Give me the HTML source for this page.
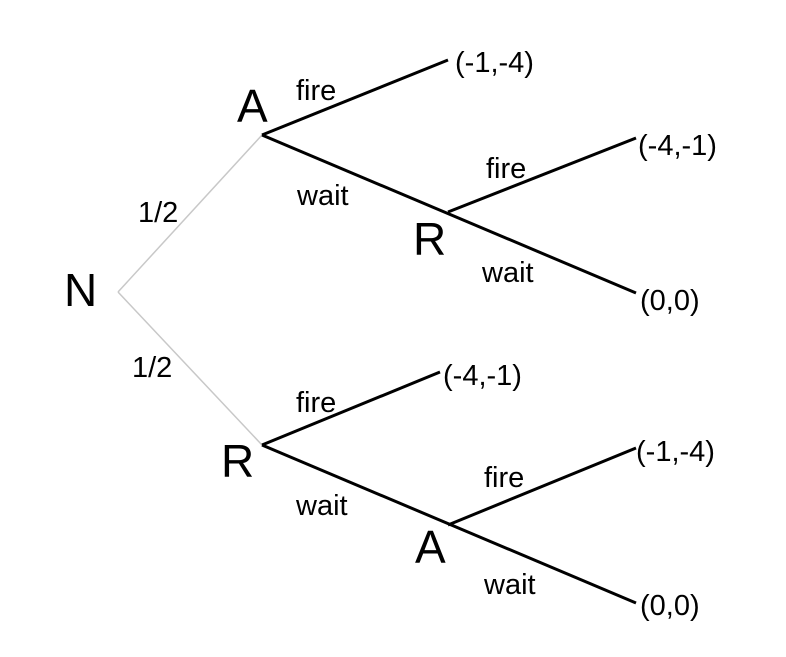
<!DOCTYPE html>
<html><head><style>body{margin:0;background:#fff}svg text{font-family:"Liberation Sans",sans-serif;fill:#000}</style></head><body>
<svg width="786" height="652" viewBox="0 0 786 652" xmlns="http://www.w3.org/2000/svg">
<g stroke="#c8c8c8" stroke-width="1.5" fill="none">
<line x1="118" y1="292" x2="262" y2="135"/>
<line x1="118" y1="292" x2="262" y2="445"/>
</g>
<g stroke="#000" stroke-width="3" fill="none">
<line x1="262" y1="135" x2="448" y2="60"/>
<line x1="262" y1="135" x2="636" y2="293"/>
<line x1="448" y1="212" x2="636" y2="138"/>
<line x1="262" y1="445" x2="440" y2="372"/>
<line x1="262" y1="445" x2="636" y2="603"/>
<line x1="448" y1="525" x2="636" y2="448"/>
</g>
<g font-size="46">
<text x="64" y="306">N</text>
<text x="237" y="122">A</text>
<text x="413" y="255">R</text>
<text x="221" y="477">R</text>
<text x="415" y="563">A</text>
</g>
<g font-size="29">
<text x="138" y="222">1/2</text>
<text x="132" y="377">1/2</text>
<text x="296" y="100">fire</text>
<text x="297" y="205">wait</text>
<text x="486" y="178">fire</text>
<text x="482" y="282">wait</text>
<text x="296" y="412">fire</text>
<text x="296" y="515">wait</text>
<text x="484" y="487">fire</text>
<text x="484" y="594">wait</text>
<text x="455" y="72">(-1,-4)</text>
<text x="638" y="155">(-4,-1)</text>
<text x="640" y="310">(0,0)</text>
<text x="443" y="385">(-4,-1)</text>
<text x="636" y="461">(-1,-4)</text>
<text x="640" y="615">(0,0)</text>
</g>
</svg>
</body></html>
